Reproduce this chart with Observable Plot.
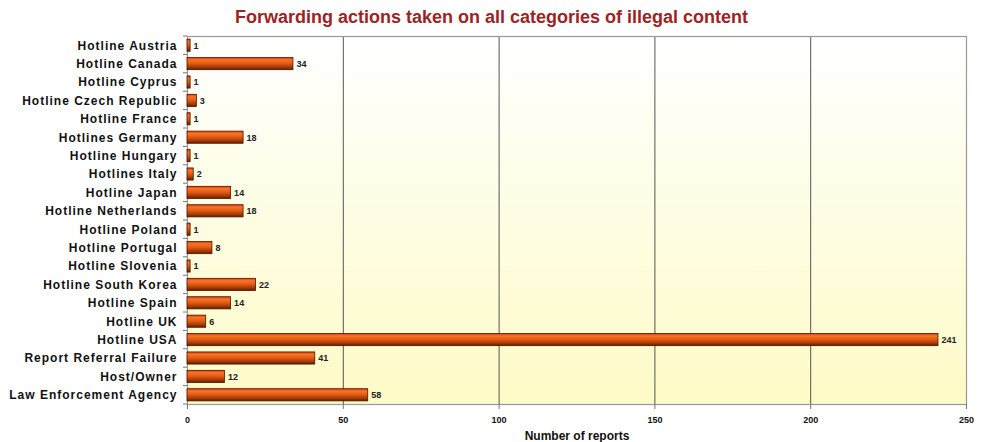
<!DOCTYPE html>
<html><head><meta charset="utf-8">
<script src="https://cdn.jsdelivr.net/npm/d3@7"></script>
<script src="https://cdn.jsdelivr.net/npm/@observablehq/plot@0.6"></script>
<style>
body{margin:0;background:#fff;overflow:hidden;}
#title{height:30px;line-height:34px;text-align:center;font-family:"Liberation Sans Narrow","Liberation Sans",Arial,sans-serif;font-weight:bold;font-size:18px;color:#9c2424;}
#chart svg{display:block;}
</style>
</head><body>
<div id="title">Forwarding actions taken on all categories of illegal content</div>
<div id="chart"></div>
<script>
const categories = ["Hotline Austria","Hotline Canada","Hotline Cyprus","Hotline Czech Republic","Hotline France","Hotlines Germany","Hotline Hungary","Hotlines Italy","Hotline Japan","Hotline Netherlands","Hotline Poland","Hotline Portugal","Hotline Slovenia","Hotline South Korea","Hotline Spain","Hotline UK","Hotline USA","Report Referral Failure","Host/Owner","Law Enforcement Agency"];
const values = [1,34,1,3,1,18,1,2,14,18,1,8,1,22,14,6,241,41,12,58];
const xTicks = [0,50,100,150,200,250];
const xLabel = "Number of reports";

const data = categories.map((c,i)=>({cat:c, v:values[i]}));

const chart = Plot.plot({
  width: 983, height: 412,
  marginLeft: 187, marginRight: 17, marginTop: 6, marginBottom: 38,
  style: {fontFamily: "'Liberation Sans', Arial, sans-serif", background: "transparent"},
  x: {domain: [0,250], ticks: xTicks, label: null},
  y: {domain: categories, paddingInner: 0.34, paddingOuter: 0.17, round: false, label: null},
  marks: [
    Plot.frame({fill: "url(#bgGrad)", stroke: "none"}),
    Plot.ruleX(xTicks.slice(1,5), {stroke: "#555", strokeWidth: 1}),
    Plot.frame({stroke: "#999", strokeWidth: 1.2}),
    Plot.barX(data, {x: "v", y: "cat", fill: "url(#barGrad)", stroke: "#4a1500", strokeWidth: 0.8}),
    Plot.text(data, {x: "v", y: "cat", text: d => String(d.v), dx: 3, textAnchor: "start", fontWeight: "bold", fontSize: 9, fill: "#222"}),
    Plot.axisY({tickSize: 0, tickPadding: 10, fontSize: 12, fontWeight: "bold", fill: "#111"}),
    Plot.axisX({ticks: xTicks, tickSize: 5, tickPadding: 7, fontSize: 9, fontWeight: "bold", fill: "#111", stroke: "#777"}),
    Plot.axisX({ticks: [], label: xLabel, labelAnchor: "center", labelArrow: "none", labelOffset: 35, fontSize: 12, fontWeight: "bold", fill: "#111"})
  ]
});

const svg = d3.select(chart);
const defs = svg.insert("defs", ":first-child");
const bg = defs.append("linearGradient").attr("id","bgGrad").attr("x1",0).attr("y1",0).attr("x2",0).attr("y2",1);
bg.append("stop").attr("offset","0%").attr("stop-color","#ffffff");
bg.append("stop").attr("offset","100%").attr("stop-color","#fdfbc6");
const bg2 = defs.append("linearGradient").attr("id","barGrad").attr("x1",0).attr("y1",0).attr("x2",0).attr("y2",1);
[["0%","#e03a0a"],["20%","#f87428"],["50%","#e05a10"],["80%","#a03808"],["100%","#641c02"]].forEach(([o,c])=>bg2.append("stop").attr("offset",o).attr("stop-color",c));

// small tick marks at band boundaries on the left axis
const ys = chart.scale("y");
const x0 = 187;
const bw = ys.bandwidth;
const st = ys.step;
const g = svg.append("g").attr("stroke","#777");
categories.forEach((c)=>{
  const yTop = ys.apply(c) - (st - bw)/2;
  g.append("line").attr("x1",x0-4).attr("x2",x0).attr("y1",yTop).attr("y2",yTop);
});
const last = categories[categories.length-1];
const yb = ys.apply(last) + bw + (st-bw)/2;
g.append("line").attr("x1",x0-4).attr("x2",x0).attr("y1",yb).attr("y2",yb);

svg.selectAll("[aria-label='y-axis tick label'] text").style("letter-spacing","1px");
document.getElementById("chart").appendChild(chart);
</script>
</body></html>
